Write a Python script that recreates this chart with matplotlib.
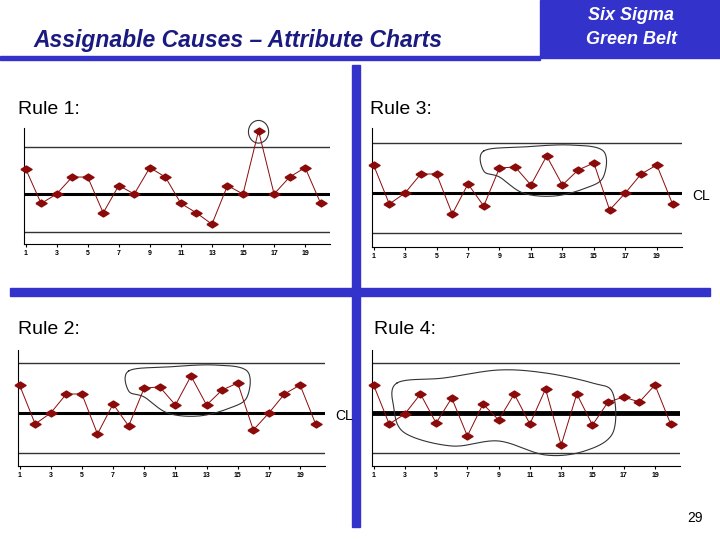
import numpy as np
import matplotlib.pyplot as plt
from matplotlib.patches import Rectangle, Ellipse

plt.rcParams['font.family'] = 'Liberation Sans'

x = np.arange(1, 21)
tick_pos = list(range(1, 20, 2))
tick_labels = [str(t) for t in tick_pos]

rule1 = [2.7, -1.0, 0.0, 1.8, 1.8, -2.0, 0.9, 0.0, 2.8, 1.8,
         -1.0, -2.0, -3.2, 0.9, 0.0, 6.7, 0.0, 1.8, 2.8, -1.0]
rule23 = [2.8, -1.1, 0.0, 1.9, 1.9, -2.1, 0.9, -1.3, 2.5, 2.6,
          0.8, 3.7, 0.8, 2.3, 3.0, -1.7, 0.0, 1.9, 2.8, -1.1]
rule4 = [2.8, -1.1, -0.1, 1.9, -1.0, 1.5, -2.3, 0.9, -0.7, 1.9,
         -1.1, 2.4, -3.2, 1.9, -1.2, 1.1, 1.6, 1.1, 2.8, -1.1]
ucl, cl, lcl = 5.0, 0.0, -4.0

W, H = 720, 540
fig = plt.figure(figsize=(7.2, 5.4), dpi=100)
blue = '#3333cc'
navy = '#1a1a80'
red = '#8b0a0a'
diamond = [(-1.6, 0), (0, 1), (1.6, 0), (0, -1), (-1.6, 0)]


def px_axes(l, t, r, b):
    return fig.add_axes([l / W, 1 - b / H, (r - l) / W, (b - t) / H])


def smooth(pts, n=20):
    # closed Catmull-Rom curve through the outline points
    p = np.array(pts, dtype=float)
    m = len(p)
    out = []
    for i in range(m):
        p0, p1, p2, p3 = p[i - 1], p[i], p[(i + 1) % m], p[(i + 2) % m]
        for s in np.linspace(0, 1, n, endpoint=False):
            out.append(0.5 * ((2 * p1) + (-p0 + p2) * s +
                              (2 * p0 - 5 * p1 + 4 * p2 - p3) * s ** 2 +
                              (-p0 + 3 * p1 - 3 * p2 + p3) * s ** 3))
    out.append(out[0])
    return np.array(out)


def chart(box, vals, ylim, cl_lw=2.2):
    ax = px_axes(*box)
    ax.axhline(ucl, color='#333333', lw=1)
    ax.axhline(lcl, color='#333333', lw=1)
    ax.axhline(cl, color='black', lw=cl_lw)
    ax.plot(x, vals, color=red, lw=0.7, marker=diamond, ms=8,
            mfc=red, mec=red, zorder=3, clip_on=False)
    ax.set_xlim(0.9, 20.6)
    ax.set_ylim(*ylim)
    ax.set_xticks(tick_pos)
    ax.set_xticklabels(tick_labels, fontsize=5, fontweight='bold')
    ax.set_yticks([])
    ax.tick_params(axis='x', length=2, pad=2)
    for s in ['top', 'right']:
        ax.spines[s].set_visible(False)
    ax.patch.set_alpha(0)
    return ax


blob = [(8.0, 4.2), (10.5, 4.6), (13.5, 4.8), (15.6, 4.2), (15.6, 1.6),
        (14.5, 0.5), (12.5, -0.3), (10.5, 0.0), (9.0, 1.6), (8.0, 2.2)]
blob4 = [(2.5, 3.0), (5.5, 3.5), (9.0, 4.3), (12.0, 4.0), (15.0, 3.0),
         (16.3, 2.0), (16.3, -2.0), (14.5, -3.8), (12.0, -4.2),
         (9.0, -2.8), (6.0, -3.3), (3.0, -2.0), (2.3, 0.5)]

ax1 = chart((24, 128, 330, 244), rule1, (-5.3, 7.0))
ax1.add_patch(Ellipse((16, 6.6), 1.3, 2.4, fill=False, lw=0.8,
                      color='#333333', clip_on=False))

ax3 = chart((372, 128, 682, 247), rule23, (-5.4, 6.5))
b = smooth(blob)
ax3.plot(b[:, 0], b[:, 1], color='#333333', lw=0.8)

ax2 = chart((18, 350, 325, 466), rule23, (-5.3, 6.3))
ax2.plot(b[:, 0], b[:, 1], color='#333333', lw=0.8)

ax4 = chart((372, 350, 680, 466), rule4, (-5.3, 6.3), cl_lw=3.5)
b4 = smooth(blob4)
ax4.plot(b4[:, 0], b4[:, 1], color='#333333', lw=0.8)

# slide decoration
deco = fig.add_axes([0, 0, 1, 1], zorder=-1)
deco.set_xlim(0, W)
deco.set_ylim(H, 0)
deco.axis('off')
deco.add_patch(Rectangle((540, 0), 180, 58, color=blue))
deco.add_patch(Rectangle((0, 56), 540, 4, color=blue))
deco.add_patch(Rectangle((352, 65), 8, 462, color=blue))
deco.add_patch(Rectangle((10, 288), 700, 8, color=blue))

fig.text(33 / W, 1 - 41 / H, 'Assignable Causes \u2013 Attribute Charts', fontsize=16.5,
         fontstyle='italic', fontweight='bold', color=navy, va='center')
fig.text(631 / W, 1 - 16 / H, 'Six Sigma', fontsize=13, fontstyle='italic',
         fontweight='bold', color='white', ha='center', va='center')
fig.text(631 / W, 1 - 40 / H, 'Green Belt', fontsize=13, fontstyle='italic',
         fontweight='bold', color='white', ha='center', va='center')
for lbl, (px, py) in [('Rule 1:', (18, 110)), ('Rule 3:', (370, 110)),
                      ('Rule 2:', (18, 330)), ('Rule 4:', (374, 330))]:
    fig.text(px / W, 1 - py / H, lbl, fontsize=14, va='center')
fig.text(692 / W, 1 - 196 / H, 'CL', fontsize=10, va='center')
fig.text(335 / W, 1 - 416 / H, 'CL', fontsize=10, va='center')
fig.text(703 / W, 1 - 518 / H, '29', fontsize=10, ha='right', va='center')

fig.savefig('out.png', dpi=100)
